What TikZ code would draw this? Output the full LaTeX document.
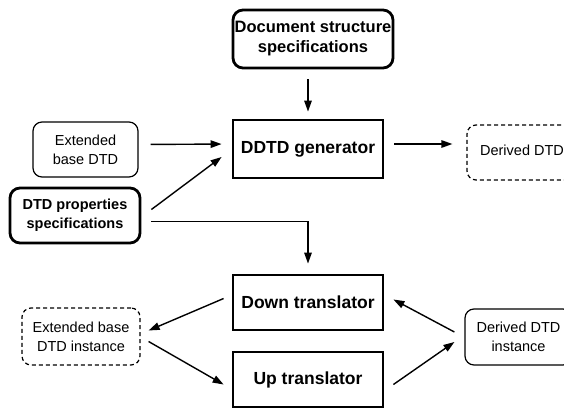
\documentclass[tikz,border=0pt]{standalone}
\usepackage{fontspec}
\setmainfont{Liberation Sans}
\usetikzlibrary{arrows.meta, calc, positioning}

\tikzset{
	box/.style = {draw, align = center, inner sep = 0pt, font = \fontsize{14.5}{19}\selectfont},
	rbox/.style = {box, rounded corners = 9pt, line width = 1.2pt},
	rboxbold/.style = {box, rounded corners = 10pt, line width = 2.8pt, font = \fontsize{14.5}{19}\selectfont\bfseries},
	dbox/.style = {rbox, dash pattern = on 4pt off 3pt},
	bigbox/.style = {box, line width = 2.8pt, font = \fontsize{17.5}{21}\selectfont\bfseries},
	link/.style = {line width = 1.4pt, -{Triangle[length = 11pt, width = 7.5pt]}},
}

\begin{document}
	\begin{tikzpicture}[x = 1pt, y = -1pt]

		% page frame
		\useasboundingbox (0, 0) rectangle (564, 409);
		\clip (0, 0) rectangle (564, 409);

		% box centres
		\coordinate (DS) at (313.0, 39.0);
		\coordinate (GE) at (308.0, 149.0);
		\coordinate (EB) at (85.5, 149.5);
		\coordinate (PS) at (75.0, 215.5);
		\coordinate (DD) at (522.0, 152.5);
		\coordinate (DT) at (308.0, 302.5);
		\coordinate (UT) at (308.0, 379.5);
		\coordinate (EI) at (81.0, 336.5);
		\coordinate (DI) at (518.5, 337.0);

		% specifications and base DTD
		\node[rboxbold, minimum width = 160pt, minimum height = 58pt, font = \fontsize{16.5}{20}\selectfont\bfseries] (docspec) at (DS) {Document structure\\specifications};
		\node[rbox, minimum width = 105pt, minimum height = 55pt] (extbase) at (EB) {Extended\\base DTD};
		\node[rboxbold, minimum width = 130pt, minimum height = 55pt] (propspec) at (PS) {DTD properties\\specifications};

		% generator and translators
		\node[bigbox, minimum width = 150pt, minimum height = 58pt] (generator) at (GE) {DDTD generator};
		\node[bigbox, minimum width = 150pt, minimum height = 55pt] (downtrans) at (DT) {Down translator};
		\node[bigbox, minimum width = 150pt, minimum height = 55pt] (uptrans) at (UT) {Up translator};

		% derived DTD and instances
		\node[dbox, minimum width = 110pt, minimum height = 55pt] (derived) at (DD) {\raisebox{4pt}{Derived DTD}};
		\node[dbox, minimum width = 118pt, minimum height = 57pt] (extinst) at (EI) {Extended base\\DTD instance};
		\node[rbox, minimum width = 107pt, minimum height = 56pt] (derinst) at (DI) {Derived DTD\\instance};

		% generator inputs and output
		\draw[link, shorten <= 10pt, shorten >= 7pt] ([xshift = -5pt]docspec.south) -- (generator.north);
		\draw[link, shorten <= 12pt, shorten >= 10pt] ([yshift = 5pt]extbase.east) -- ([yshift = 5pt]generator.west);
		\draw[link] ([xshift = 10pt, yshift = 6pt]propspec.east) -- ([xshift = -10pt, yshift = -8pt]generator.west);
		\draw[link, shorten <= 10pt, shorten >= 14pt] ([yshift = 5pt]generator.east) -- ([yshift = 8.5pt]derived.west);
		\draw[link] ([xshift = 10pt, yshift = -6pt]propspec.east) -| ([yshift = 10pt]downtrans.north);

		% translation loop
		\draw[link] ([xshift = -8pt, yshift = 4pt]downtrans.west) -- ([xshift = 8pt, yshift = 6pt]extinst.east);
		\draw[link] ([xshift = 8pt, yshift = -5pt]extinst.east) -- ([xshift = -8pt, yshift = -5pt]uptrans.west);
		\draw[link] ([xshift = 9pt, yshift = -5pt]uptrans.east) -- ([xshift = -10pt, yshift = -5pt]derinst.west);
		\draw[link] ([xshift = -10pt, yshift = 5pt]derinst.west) -- ([xshift = 9pt, yshift = 3pt]downtrans.east);

	\end{tikzpicture}
\end{document}
